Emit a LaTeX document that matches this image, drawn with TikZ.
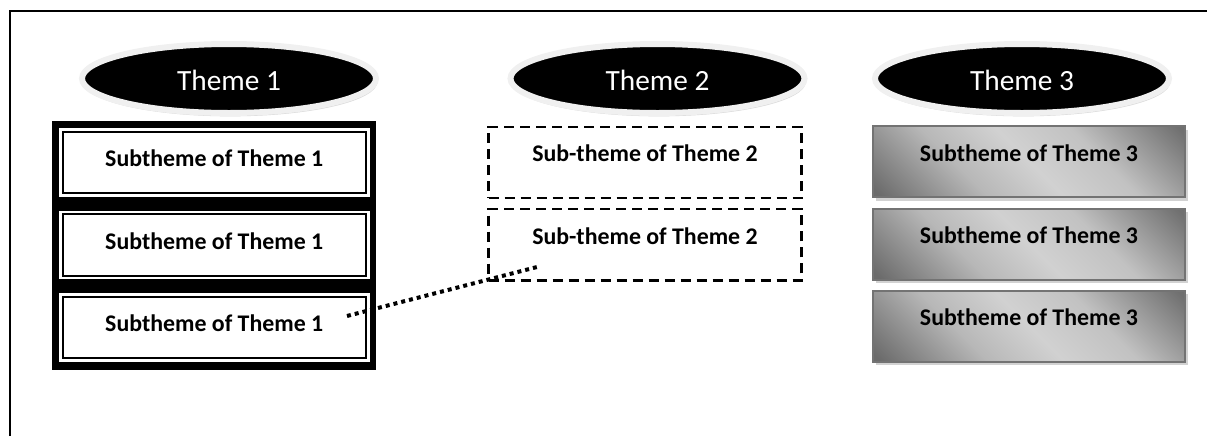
\documentclass[tikz,border=0pt]{standalone}
\usepackage{fontspec}
\setmainfont{Carlito}
\usetikzlibrary{shapes.geometric,shadows}

\pgfdeclarehorizontalshading{steel}{100bp}{color(0bp)=(black!62); color(16bp)=(black!58); color(36bp)=(black!28); color(50bp)=(black!18); color(64bp)=(black!24); color(84bp)=(black!56); color(100bp)=(black!62)}

\tikzset{every picture/.style={line width=0.75pt}}
\tikzset{
  themeoval/.style={ellipse, fill=black, draw=black!6, line width=4.5pt, inner sep=0pt,
    minimum width=220.5pt, minimum height=51.75pt, text=white, text height=18pt,
    font=\fontsize{22}{26}\selectfont,
    drop shadow={shadow xshift=1pt, shadow yshift=-2.5pt, fill=black!30}},
  framedsub/.style={rectangle, fill=white, draw=black, line width=1.5pt, inner sep=0pt,
    preaction={draw=white, line width=5.5pt},
    minimum width=227.6pt, minimum height=46.2pt, text depth=6pt,
    font=\fontsize{17.9}{21}\selectfont\bfseries},
  dashedsub/.style={rectangle, fill=white, draw=black, line width=1.6pt, inner sep=0pt,
    dash pattern=on 7.5pt off 4.5pt,
    minimum width=234.75pt, minimum height=53.6pt, text depth=13.5pt,
    font=\fontsize{17.9}{21}\selectfont\bfseries},
  steelsub/.style={rectangle, shading=steel, shading angle=45, draw=black!55, line width=1.5pt,
    inner sep=0pt, minimum width=234pt, minimum height=53.25pt, text depth=13.5pt,
    font=\fontsize{17.9}{21}\selectfont\bfseries,
    drop shadow={shadow xshift=2pt, shadow yshift=-2.5pt, fill=black!35}},
  dotlink/.style={line width=3pt, dash pattern=on 3pt off 3pt}
}

\begin{document}
\begin{tikzpicture}[x=0.75pt,y=0.75pt,yscale=-1,xscale=1]
\useasboundingbox (0,0) rectangle (1207,436);

%Shape: Page frame
\draw [line width=1.5pt] (9.5,436) -- (9.5,10.5) -- (1207,10.5) ;

%Shape: Ellipse
\node [themeoval] (theme1) at (229,78.5) {Theme 1};
%Shape: Ellipse
\node [themeoval] (theme2) at (657.5,78.5) {Theme 2};
%Shape: Ellipse
\node [themeoval] (theme3) at (1022,78.5) {Theme 3};

%Shape: Rectangle
\node [fill=black, inner sep=0pt, minimum width=243pt, minimum height=186.75pt] (frame1) at (214,245.5) {};

% Text Node
\node [framedsub] (sub11) at (214.25,162.5) {Subtheme of Theme 1};
% Text Node
\node [framedsub] (sub12) at (214.25,245) {Subtheme of Theme 1};
% Text Node
\node [framedsub] (sub13) at (214.25,327.5) {Subtheme of Theme 1};

% Text Node
\node [dashedsub] (sub21) at (645,162.5) {Sub-theme of Theme 2};
% Text Node
\node [dashedsub] (sub22) at (645,244.7) {Sub-theme of Theme 2};

% Text Node
\node [steelsub] (sub31) at (1029,161.7) {Subtheme of Theme 3};
% Text Node
\node [steelsub] (sub32) at (1029,244.2) {Subtheme of Theme 3};
% Text Node
\node [steelsub] (sub33) at (1029,326.2) {Subtheme of Theme 3};

%Straight Lines
\coordinate (link1) at (347,316);
\coordinate (link2) at (537,267);
\draw [dotlink] (link1) -- (link2) ;

\end{tikzpicture}
\end{document}
